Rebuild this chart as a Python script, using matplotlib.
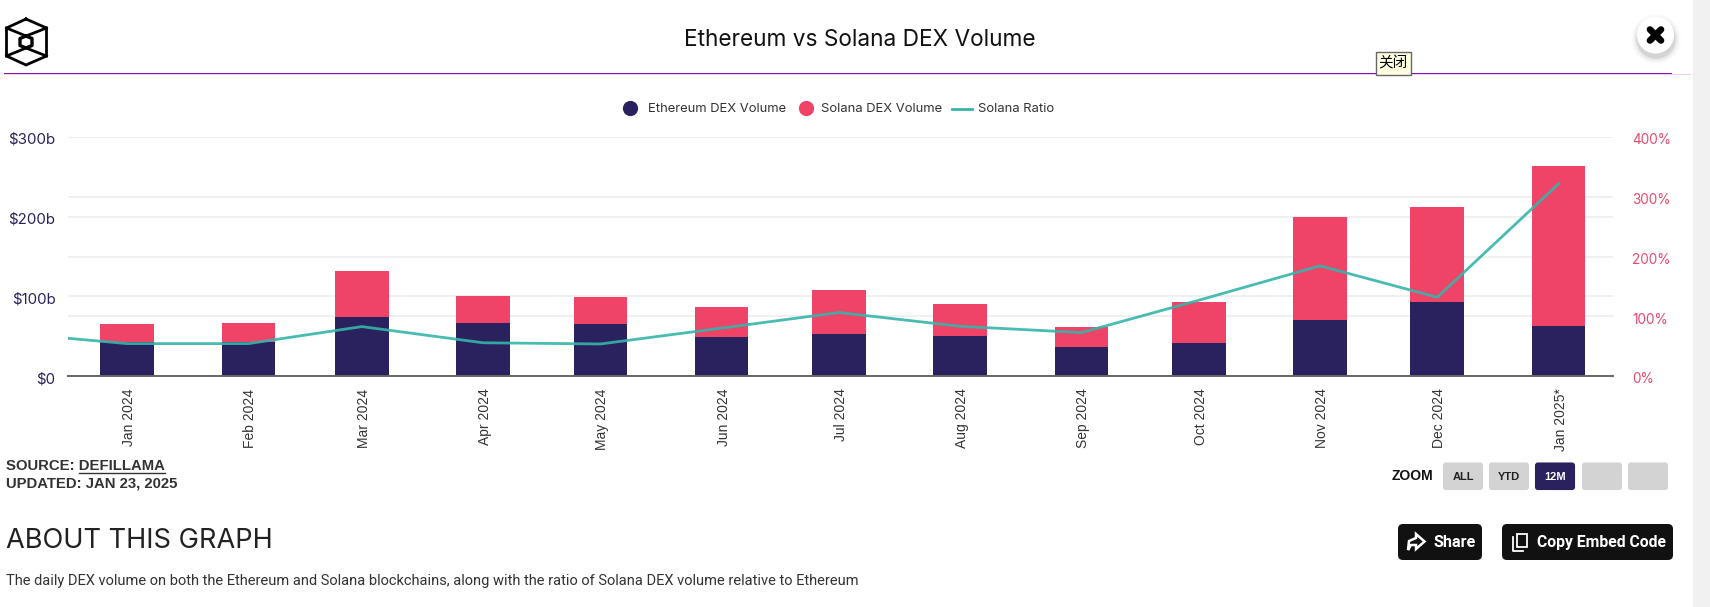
import matplotlib
matplotlib.use('Agg')
import matplotlib.pyplot as plt
from matplotlib.patches import Rectangle, FancyBboxPatch, Circle, Polygon
from matplotlib.transforms import ScaledTranslation
import pandas as pd

# monthly values ($b and %)
months = ['2024-01-01', '2024-02-01', '2024-03-01', '2024-04-01', '2024-05-01', '2024-06-01', '2024-07-01',
          '2024-08-01', '2024-09-01', '2024-10-01', '2024-11-01', '2024-12-01', '2025-01-01']
month_labels = ['Jan 2024', 'Feb 2024', 'Mar 2024', 'Apr 2024', 'May 2024', 'Jun 2024', 'Jul 2024',
                'Aug 2024', 'Sep 2024', 'Oct 2024', 'Nov 2024', 'Dec 2024', 'Jan 2025*']
eth_volume = [43.2, 43.2, 74, 66.6, 64.9, 49, 52.4, 50.7, 36.5, 41.5, 71.1, 92.8, 63.2]
sol_volume = [22.1, 23.8, 58.5, 34.6, 34.7, 38, 55.1, 39.6, 25.5, 51.8, 128.7, 119.5, 200.8]
ratio_months = ['2023-12-01'] + months
solana_ratio = [72.8, 54.6, 54.6, 83.0, 56.0, 54.0, 80.5, 106.5, 83.5, 73.0, 127.0, 184.5, 132.0, 321.5]
left_ticks = [0, 100, 200, 300]
left_labels = ['$0', '$100b', '$200b', '$300b']
right_ticks = [0, 100, 200, 300, 400]
right_labels = ['0%', '100%', '200%', '300%', '400%']

NAVY = '#2a215f'
RED = '#ef4367'
TEAL = '#35b5aa'
GRID = '#eeeeee'
W, H = 1710, 607

dates = pd.to_datetime(months)
ratio_dates = pd.to_datetime(ratio_months)
x_limits = (pd.Timestamp('2023-12-16 21:00'), pd.Timestamp('2025-01-15 00:00'))

fig = plt.figure(figsize=(W / 100, H / 100), dpi=100, facecolor='white')
chart_box = [68 / W, 1 - 376.3 / H, (1613.3 - 68) / W, (376.3 - 136.8) / H]

# right axis goes underneath so its grid stays behind the bars
ax2 = fig.add_axes(chart_box, zorder=1)
ax2.set_xlim(x_limits)
ax2.set_ylim(0, 400)
ax2.yaxis.tick_right()
ax2.set_yticks(right_ticks, right_labels, family='Inter', fontsize=9.8, color='#e84a6e')
ax2.set_xticks([])
ax2.tick_params(axis='y', length=0, pad=13.5)
ax2.grid(axis='y', color=GRID, lw=1.2)
ax2.spines[['top', 'left', 'right', 'bottom']].set_visible(False)

ax = fig.add_axes(chart_box, zorder=2)
ax.patch.set_visible(False)
ax.bar(dates, eth_volume, width=13.73, color=NAVY, zorder=3)
ax.bar(dates, sol_volume, width=13.73, bottom=eth_volume, color=RED, zorder=3)
ax.set_xlim(x_limits)
ax.set_ylim(0, 300)
ax.set_yticks(left_ticks, left_labels, family='Inter', fontsize=10.8, color=NAVY)
ax.set_xticks(dates, month_labels, rotation=90, family='Liberation Sans', fontsize=10, color='#333333')
ax.tick_params(axis='x', length=0, pad=8.8)
ax.tick_params(axis='y', length=0, pad=9)
ax.grid(axis='y', color=GRID, lw=1.2, zorder=0)
ax.spines[['top', 'left', 'right']].set_visible(False)
ax.spines['bottom'].set_color('#666666')
ax.spines['bottom'].set_linewidth(1.4)
ax.spines['bottom'].set_zorder(5)

# labels sit a bit off the ticks in the reference
for lab in ax.get_xticklabels():
    lab.set_transform(lab.get_transform() + ScaledTranslation(1.5 / 72, 0, fig.dpi_scale_trans))
for lab in ax.get_yticklabels() + ax2.get_yticklabels():
    lab.set_transform(lab.get_transform() + ScaledTranslation(0, -1.2 / 72, fig.dpi_scale_trans))

# ratio line on top of the bars
ax3 = fig.add_axes(chart_box, zorder=3)
ax3.patch.set_visible(False)
ax3.plot(ratio_dates, solana_ratio, color=TEAL, lw=2, alpha=0.9)
ax3.set_xlim(x_limits)
ax3.set_ylim(0, 400)
ax3.axis('off')

# page furniture, in pixels of the screenshot
pg = fig.add_axes([0, 0, 1, 1], zorder=5)
pg.set_xlim(0, W)
pg.set_ylim(H, 0)
pg.axis('off')
pg.patch.set_visible(False)

pg.add_patch(Rectangle((1693, 0), 17, H, color='#f1f1f1', lw=0))
pg.add_patch(Rectangle((4, 74), 1687, 1, color='#eccdf3', lw=0, antialiased=False))
pg.add_patch(Rectangle((4, 73), 1668, 1, color='#8a0fb5', lw=0, antialiased=False))

# logo
hex_x = [26, 46.5, 46.5, 26, 6.5, 6.5, 26]
hex_y = [19, 28, 56, 65, 56, 28, 19]
pg.plot(hex_x, hex_y, color='black', lw=2, solid_joinstyle='miter')
pg.plot([6.5, 26, 46.5], [28, 36, 28], color='black', lw=2)
pg.plot([6.5, 26, 46.5], [56, 48, 56], color='black', lw=2)
pg.plot([26, 32, 32, 26, 20, 20, 26], [36, 38.5, 45.5, 48, 45.5, 38.5, 36], color='black', lw=2.4)

pg.text(860, 40, 'Ethereum vs Solana DEX Volume', family='Inter', fontsize=16.3, ha='center', va='center', color='#111111')

# close button
for r, a in [(25, 0.02), (23, 0.03), (21, 0.05), (19.5, 0.07)]:
    pg.add_patch(Circle((1656, 39), r, color='black', alpha=a, lw=0))
pg.add_patch(Circle((1655.5, 35), 18.5, color='white', lw=0))
pg.plot([1650, 1661], [29.5, 40.5], color='black', lw=4.8, solid_capstyle='round')
pg.plot([1650, 1661], [40.5, 29.5], color='black', lw=4.8, solid_capstyle='round')

# tooltip
pg.add_patch(Rectangle((1375.5, 51.5), 35, 23, facecolor='#ffffe1', edgecolor='#666666', lw=1))
pg.text(1393, 63.5, '关闭', family=['Noto Sans CJK SC', 'DejaVu Sans'], fontsize=10.5, ha='center', va='center', color='black')

# legend
pg.scatter([630], [108], s=120, color=NAVY, lw=0)
pg.text(648, 108.5, 'Ethereum DEX Volume', family='Inter', fontsize=9.35, va='center', color='#333333')
pg.scatter([806], [108], s=120, color=RED, lw=0)
pg.text(821, 108.5, 'Solana DEX Volume', family='Inter', fontsize=9.35, va='center', color='#333333')
pg.plot([952, 972], [108.5, 108.5], color=TEAL, lw=2)
pg.text(978, 108.5, 'Solana Ratio', family='Inter', fontsize=9.35, va='center', color='#333333')

# source
pg.text(5.5, 466, 'SOURCE: DEFILLAMA', family='Liberation Sans', weight='bold', fontsize=10.7, va='center', color='#333333')
pg.plot([78.5, 165], [472.5, 472.5], color='#333333', lw=1)
pg.text(5.5, 483, 'UPDATED: JAN 23, 2025', family='Liberation Sans', weight='bold', fontsize=10.7, va='center', color='#333333')

pg.text(5.5, 541, 'ABOUT THIS GRAPH', family='Inter', fontsize=19.6, va='center', color='#222222')
pg.text(5.5, 581.5, 'The daily DEX volume on both the Ethereum and Solana blockchains, along with the ratio of Solana DEX volume relative to Ethereum',
        family='Roboto', fontsize=10.5, va='center', color='#333333')

# zoom buttons
pg.text(1392, 476, 'ZOOM', family='Liberation Sans', weight='bold', fontsize=10, va='center', color='#111111')
btn_x = [1443, 1489, 1535, 1582, 1628]
btn_txt = ['ALL', 'YTD', '12M', '', '']
for bx, txt in zip(btn_x, btn_txt):
    on = txt == '12M'
    pg.add_patch(FancyBboxPatch((bx + 1, 463.5), 38, 25.5, boxstyle='round,pad=0,rounding_size=2',
                                facecolor=NAVY if on else '#d3d3d3', edgecolor=NAVY if on else '#d3d3d3', lw=1.5))
    pg.text(bx + 20, 477, txt, family='Liberation Sans', weight='bold', fontsize=8, ha='center', va='center',
            color='white' if on else '#222222')

# share / embed buttons
for bx, bw in [(1398, 84), (1502, 171)]:
    pg.add_patch(FancyBboxPatch((bx + 2, 526), bw - 4, 32, boxstyle='round,pad=2,rounding_size=5',
                                facecolor='#111111', edgecolor='#111111', lw=0))
pg.add_patch(Polygon([(1408, 550), (1409, 541), (1416, 538), (1416, 534), (1424.5, 541.5), (1416, 549), (1416, 545), (1411, 545)],
                     facecolor='none', edgecolor='white', lw=1.8))
pg.text(1433.5, 542.5, 'Share', family='Roboto', weight='bold', fontsize=11.6, va='center', color='white')
pg.plot([1512.5, 1512.5, 1523], [537, 550.5, 550.5], color='white', lw=1.3)
pg.add_patch(Rectangle((1517, 533.5), 10, 13.5, facecolor='#111111', edgecolor='white', lw=1.3))
pg.text(1537, 542.5, 'Copy Embed Code', family='Roboto', weight='bold', fontsize=11.3, va='center', color='white')

fig.savefig('out.png', dpi=100)
